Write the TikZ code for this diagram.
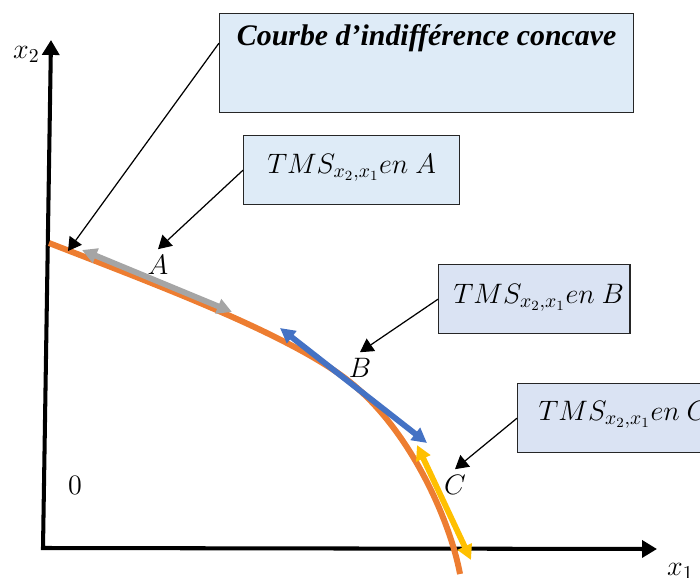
\RequirePackage{fix-cm}
\documentclass[tikz,border=0pt]{standalone}
\usepackage{fontspec}
\setmainfont{Liberation Serif}
\usepackage{tikz}
\usetikzlibrary{arrows.meta,calc}
\definecolor{orangeCI}{RGB}{237,125,49}
\definecolor{grisT}{RGB}{165,165,165}
\definecolor{bleuT}{RGB}{68,114,196}
\definecolor{jauneT}{RGB}{255,192,0}
\definecolor{fondA}{RGB}{222,235,247}
\definecolor{fondB}{RGB}{218,227,243}
\colorlet{CourbeI}{orangeCI}
\colorlet{BoiteClair}{fondA}
\colorlet{BoiteLav}{fondB}

\begin{document}
\begin{tikzpicture}[
    x=0.02cm,y=-0.02cm,
    axe/.style={line width=2.3pt,line join=miter,
      {Triangle[length=8.5pt,width=9.6pt]}-{Triangle[length=8.5pt,width=9.6pt]}},
    courbe/.style={line width=3.4pt,color=CourbeI},
    tangente/.style={line width=3.3pt,
      {Triangle[length=8.5pt,width=8.5pt]}-{Triangle[length=8.5pt,width=8.5pt]}},
    boite/.style={draw=black!85,line width=0.8pt,fill=BoiteClair,inner ysep=0pt,anchor=north west},
    tms/.style={boite,font=\fontsize{16}{19}\selectfont,text height=0.76cm,text depth=0.62cm},
    fleche/.style={line width=0.7pt,-{Triangle[length=7.5pt,width=8.5pt]}},
    lettre/.style={font=\fontsize{16}{19}\selectfont}
  ]
    \useasboundingbox (0,0) rectangle (700,578);
    \clip (0,0) rectangle (700,578);

    \coordinate (O) at (43,548);
    \coordinate (haut) at (51,40);
    \coordinate (droite) at (657,549);
    \draw[axe] (haut) -- (O) -- (droite);
    \node[lettre,anchor=base west] (axeX2) at (7,58) {$x_2$};
    \node[lettre,anchor=base west] (axeX1) at (661,575) {$x_1$};
    \node[lettre] (zero) at (75,485) {$0$};

    % courbe d'indifférence et tangentes en A, B, C
    \coordinate (debut) at (49,243);
    \coordinate (ptB) at (350,382);
    \coordinate (fin) at (460,574);
    \draw[courbe] (debut) .. controls (149,282) and (290,334) .. (ptB)
      .. controls (410,430) and (450,520) .. (fin);
    \coordinate (tA1) at (82,250);
    \coordinate (tA2) at (232,312);
    \coordinate (tB1) at (280,328);
    \coordinate (tB2) at (427,443);
    \coordinate (tC1) at (417,445);
    \coordinate (tC2) at (471,560);
    \draw[tangente,color=grisT] (tA1) -- (tA2);
    \draw[tangente,color=bleuT] (tB1) -- (tB2);
    \draw[tangente,color=jauneT] (tC1) -- (tC2);

    \node[lettre] (lblA) at (158,265) {$A$};
    \node[lettre] (lblB) at (360,368) {$B$};
    \node[lettre] (lblC) at (455,485) {$C$};

    \node[boite,font=\fontsize{17}{20}\selectfont\bfseries\itshape,minimum width=8.28cm,
      text height=0.64cm,text depth=1.34cm] (titre) at (219,13) {Courbe d’indifférence concave};
    \node[tms,minimum width=4.32cm] (tmsA) at (243,135) {$TMS_{x_2,x_1}en\ A$};
    \node[tms,fill=BoiteLav,minimum width=3.82cm,text height=0.78cm,text depth=0.60cm]
      (tmsB) at (438,264) {\hspace*{0.18cm}$TMS_{x_2,x_1}en\ B$};
    \node[tms,fill=BoiteLav,minimum width=3.82cm,text height=0.74cm,text depth=0.64cm]
      (tmsC) at (517,383) {\hspace*{0.3cm}$TMS_{x_2,x_1}en\ C$};

    \coordinate (pointCI) at (68,251);
    \draw[fleche] ($(titre.north west)!0.3!(titre.south west)$) -- (pointCI);
    \draw[fleche] (tmsA.west) -- (lblA.north);
    \draw[fleche] (tmsB.west) -- (lblB.north);
    \draw[fleche] (tmsC.west) -- (lblC.north);
  \end{tikzpicture}
\end{document}
